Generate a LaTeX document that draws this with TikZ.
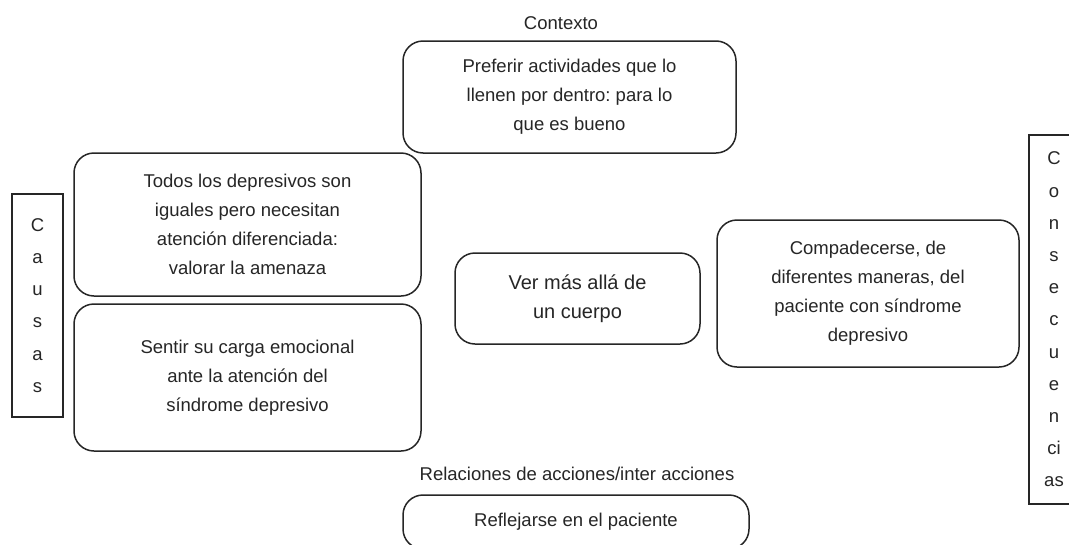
\documentclass[tikz,border=0pt]{standalone}
\usepackage{fontspec}
\setmainfont{Liberation Sans}
\frenchspacing
\begin{document}
\begin{tikzpicture}[x=1pt,y=-1pt,
  txt/.style={font=\fontsize{18.5}{29}\selectfont\frenchspacing, align=center, inner sep=0pt, text=black!85},
  rbox/.style={txt, draw=black!85, line width=1.5pt, rounded corners=20pt},
  sbox/.style={draw=black!85, line width=1.8pt, align=center, inner sep=0pt, text=black!85, font=\fontsize{18.5}{32.2}\selectfont}]
\useasboundingbox (0,0) rectangle (1069,544);
\clip (0,0) rectangle (1069,544);
\fill[white] (0,0) rectangle (1069,544);
% labels
\node[txt] (ctx) at (561,23) {Contexto};
\node[txt] (rel) at (577,474) {Relaciones de acciones/inter acciones};
% boxes
\node[rbox, minimum width=333, minimum height=112] (top) at (569.5,97)
  {Preferir actividades que lo\\llenen por dentro: para lo\\que es bueno};
\node[rbox, minimum width=347, minimum height=143] (lt) at (247.5,224.5)
  {Todos los depresivos son\\iguales pero necesitan\\atención diferenciada:\\valorar la amenaza};
\node[rbox, minimum width=347, minimum height=147] (lb) at (247.5,377.5)
  {Sentir su carga emocional\\ante la atención del\\síndrome depresivo};
\node[rbox, minimum width=245, minimum height=91, font=\fontsize{20}{29}\selectfont] (mid) at (577.5,298.5)
  {Ver más allá de\\un cuerpo};
\node[rbox, minimum width=302, minimum height=147] (rt) at (868,293.5)
  {Compadecerse, de\\diferentes maneras, del\\paciente con síndrome\\depresivo};
\node[rbox, minimum width=346, minimum height=54] (bot) at (576,522)
  {Reflejarse en el paciente};
\node[sbox, minimum width=51, minimum height=223] (cau) at (37.5,305.5)
  {C\\a\\u\\s\\a\\s};
\node[sbox, minimum width=50, minimum height=369] (con) at (1054,319.5)
  {C\\o\\n\\s\\e\\c\\u\\e\\n\\ci\\as};
\end{tikzpicture}
\end{document}
